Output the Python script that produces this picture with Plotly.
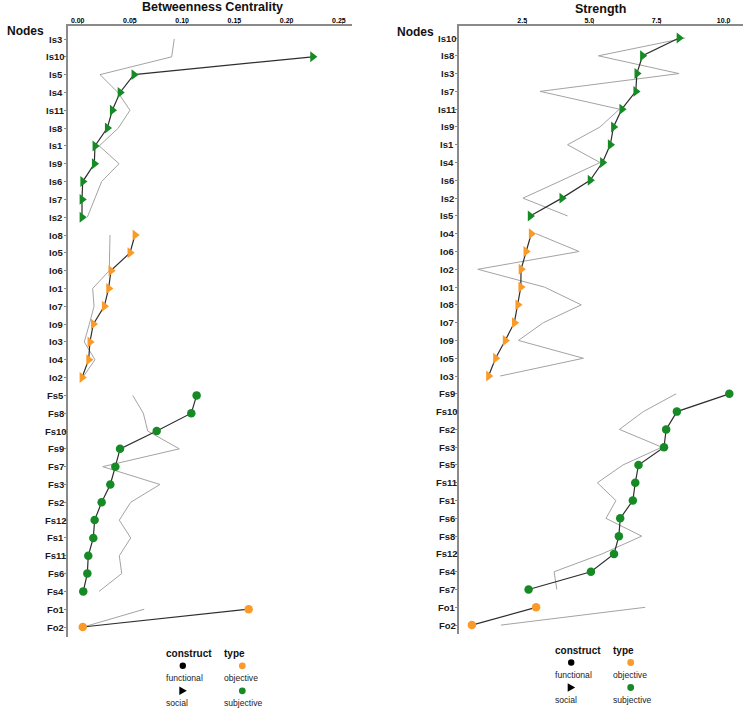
import plotly.graph_objects as go

W, H = 752, 715

# ---------------- Betweenness Centrality panel data ----------------
bc_is_nodes = ["Is3", "Is10", "Is5", "Is4", "Is11", "Is8", "Is1", "Is9", "Is6", "Is7", "Is2"]
bc_is_vals = [None, 0.221, 0.050, 0.0367, 0.0293, 0.0245, 0.0127, 0.0121, 0.001, 0.0003, 0.0003]
bc_is_ref = [0.0886, 0.0861, 0.0175, 0.0347, 0.0462, 0.035, 0.0168, 0.0357, 0.0191, 0.0124, 0.0054]

bc_io_nodes = ["Io8", "Io5", "Io6", "Io1", "Io7", "Io9", "Io3", "Io4", "Io2"]
bc_io_vals = [0.051, 0.0462, 0.028, 0.0258, 0.0216, 0.0111, 0.0079, 0.0067, 0.0003]
bc_io_ref = [0.0271, 0.0271, 0.0264, 0.0105, 0.0118, 0.0073, 0.0025, 0.0127, 0.001]

bc_fs_nodes = ["Fs5", "Fs8", "Fs10", "Fs9", "Fs7", "Fs3", "Fs2", "Fs12", "Fs1", "Fs11", "Fs6", "Fs4"]
bc_fs_vals = [0.110, 0.1049, 0.0718, 0.0367, 0.0322, 0.0274, 0.0191, 0.0124, 0.0111, 0.0063, 0.0054, 0.0015]
bc_fs_ref = [0.0488, 0.059, 0.0632, 0.0934, 0.0201, 0.0749, 0.0469, 0.036, 0.0469, 0.036, 0.0383, 0.0166]

bc_fo_nodes = ["Fo1", "Fo2"]
bc_fo_vals = [0.1598, 0.001]
bc_fo_ref = [0.0599, 0.0015]

bc_ticks = [0.00, 0.05, 0.10, 0.15, 0.20, 0.25]

# ---------------- Strength panel data ----------------
st_is_nodes = ["Is10", "Is8", "Is3", "Is7", "Is11", "Is9", "Is1", "Is4", "Is6", "Is2", "Is5"]
st_is_vals = [8.19, 6.83, 6.62, 6.58, 6.06, 5.75, 5.63, 5.34, 4.88, 3.83, 2.65]
st_is_ref = [8.42, 5.19, 8.19, 3.02, 5.97, 5.25, 4.04, 5.25, 3.83, 2.38, 4.04]

st_io_nodes = ["Io4", "Io6", "Io2", "Io1", "Io8", "Io7", "Io9", "Io5", "Io3"]
st_io_vals = [2.69, 2.49, 2.31, 2.30, 2.19, 2.06, 1.72, 1.36, 1.10]
st_io_ref = [2.87, 4.47, 0.70, 3.18, 4.55, 3.14, 2.21, 4.63, 1.53]

st_fs_nodes = ["Fs9", "Fs10", "Fs2", "Fs3", "Fs5", "Fs11", "Fs1", "Fs6", "Fs8", "Fs12", "Fs4", "Fs7"]
st_fs_vals = [10.06, 8.11, 7.71, 7.63, 6.68, 6.56, 6.47, 6.00, 5.95, 5.77, 4.91, 2.59]
st_fs_ref = [8.08, 6.86, 5.97, 7.55, 6.10, 5.15, 5.84, 5.47, 6.80, 5.32, 3.54, 3.64]

st_fo_nodes = ["Fo1", "Fo2"]
st_fo_vals = [2.87, 0.48]
st_fo_ref = [6.93, 1.56]

st_ticks = [2.5, 5.0, 7.5, 10.0]

construct_levels = ["functional", "social"]
type_levels = ["objective", "subjective"]

COLORS = {"objective": "#f99a29", "subjective": "#168a24"}
SYMBOLS = {"social": "triangle-right", "functional": "circle"}
FONT = "Liberation Sans, Arial, Helvetica, sans-serif"


def px_x(x):
    return x / W


def px_y(y):
    return 1 - y / H


bc_groups = [
    (bc_is_nodes, bc_is_vals, bc_is_ref, "social", "subjective"),
    (bc_io_nodes, bc_io_vals, bc_io_ref, "social", "objective"),
    (bc_fs_nodes, bc_fs_vals, bc_fs_ref, "functional", "subjective"),
    (bc_fo_nodes, bc_fo_vals, bc_fo_ref, "functional", "objective"),
]
st_groups = [
    (st_is_nodes, st_is_vals, st_is_ref, "social", "subjective"),
    (st_io_nodes, st_io_vals, st_io_ref, "social", "objective"),
    (st_fs_nodes, st_fs_vals, st_fs_ref, "functional", "subjective"),
    (st_fo_nodes, st_fo_vals, st_fo_ref, "functional", "objective"),
]

fig = go.Figure()
annotations = []
shapes = []


def add_panel(groups, xa, ya, label_x_px):
    pos = 0
    all_idx = []
    for nodes, vals, ref, cons, typ in groups:
        idx = list(range(pos, pos + len(nodes)))
        pos += len(nodes)
        all_idx += idx
        fig.add_trace(go.Scatter(x=ref, y=idx, mode="lines", xaxis=xa, yaxis=ya,
                                 line=dict(color="#a3a3a3", width=1), showlegend=False,
                                 hoverinfo="skip"))
        fig.add_trace(go.Scatter(x=vals, y=idx, mode="lines+markers", xaxis=xa, yaxis=ya,
                                 line=dict(color="#2e2e2e", width=1.2),
                                 marker=dict(symbol=SYMBOLS[cons], color=COLORS[typ],
                                             size=9.5 if cons == "social" else 8.5,
                                             line=dict(width=0)),
                                 showlegend=False, text=nodes))
        for n, i in zip(nodes, idx):
            annotations.append(dict(x=px_x(label_x_px), xref="paper", y=i, yref=ya,
                                    text=n, showarrow=False, xanchor="center", yanchor="middle",
                                    font=dict(family=FONT, size=9.5, color="#1a1a1a", weight="bold")))
    return all_idx


idx_bc = add_panel(bc_groups, "x", "y", 55.8)
idx_st = add_panel(st_groups, "x2", "y2", 447)

axis_common = dict(showline=True, linecolor="#8a8a8a", linewidth=1.5, ticks="outside",
                   ticklen=2.5, tickcolor="#8a8a8a", tickwidth=1, showgrid=False, zeroline=False)

xtickfont = dict(family=FONT, size=7, color="#000000", weight="bold")

fig.update_layout(
    width=W, height=H, margin=dict(l=0, r=0, t=0, b=0),
    paper_bgcolor="white", plot_bgcolor="white", showlegend=False,
    xaxis=dict(domain=[px_x(68), px_x(352)], range=[-0.0131, 0.2587], side="top", anchor="y",
               tickvals=bc_ticks, tickformat=".2f", ticklabelshift=-4, ticklabelstandoff=-4,
               tickfont=xtickfont, **axis_common),
    yaxis=dict(domain=[px_y(637), px_y(26)], range=[33.56, -0.73], anchor="x",
               tickvals=idx_bc, showticklabels=False, **axis_common),
    xaxis2=dict(domain=[px_x(459), px_x(743)], range=[0.0, 10.57], side="top", anchor="y2",
                tickvals=st_ticks, tickformat=".1f", ticklabelshift=-4, ticklabelstandoff=-4,
                tickfont=xtickfont, **axis_common),
    yaxis2=dict(domain=[px_y(634), px_y(26)], range=[33.50, -0.675], anchor="x2",
                tickvals=idx_st, showticklabels=False, **axis_common),
)

# titles
for txt, x, y, sz in [("Betweenness Centrality", 212, 7, 12.5), ("Strength", 600, 9, 12.5),
                      ("Nodes", 25, 31, 12), ("Nodes", 415.5, 32, 12)]:
    annotations.append(dict(x=px_x(x), y=px_y(y), xref="paper", yref="paper", text=txt,
                            showarrow=False, xanchor="center", yanchor="middle",
                            font=dict(family=FONT, size=sz, color="#111", weight="bold")))


def add_legend(x0, y0):
    # x0: left of "construct"; y0: center y of legend headers
    cx1 = x0 + 18.5   # construct symbol column
    tx2 = x0 + 58     # type column left
    cx2 = x0 + 78     # type symbol column
    dy = 12.5
    annotations.append(dict(x=px_x(x0), y=px_y(y0), xref="paper", yref="paper", text="construct",
                            showarrow=False, xanchor="left", yanchor="middle",
                            font=dict(family=FONT, size=10, color="#111", weight="bold")))
    annotations.append(dict(x=px_x(tx2), y=px_y(y0), xref="paper", yref="paper", text="type",
                            showarrow=False, xanchor="left", yanchor="middle",
                            font=dict(family=FONT, size=10, color="#111", weight="bold")))
    for k, lab in enumerate(construct_levels):
        ys = y0 + dy * (1 + 2 * k)
        yt = y0 + dy * (2 + 2 * k)
        if SYMBOLS[lab] == "circle":
            shapes.append(dict(type="circle", xref="paper", yref="paper",
                               x0=px_x(cx1 - 3.2), x1=px_x(cx1 + 3.2), y0=px_y(ys + 3.2), y1=px_y(ys - 3.2),
                               fillcolor="black", line=dict(width=0)))
        else:
            path = "M {} {} L {} {} L {} {} Z".format(px_x(cx1 - 3.5), px_y(ys - 4.2),
                                                      px_x(cx1 + 4), px_y(ys),
                                                      px_x(cx1 - 3.5), px_y(ys + 4.2))
            shapes.append(dict(type="path", xref="paper", yref="paper", path=path,
                               fillcolor="black", line=dict(width=0)))
        annotations.append(dict(x=px_x(x0), y=px_y(yt), xref="paper", yref="paper", text=lab,
                                showarrow=False, xanchor="left", yanchor="middle",
                                font=dict(family=FONT, size=8.6, color="#222")))
    for k, lab in enumerate(type_levels):
        ys = y0 + dy * (1 + 2 * k)
        yt = y0 + dy * (2 + 2 * k)
        shapes.append(dict(type="circle", xref="paper", yref="paper",
                           x0=px_x(cx2 - 3.4), x1=px_x(cx2 + 3.4), y0=px_y(ys + 3.4), y1=px_y(ys - 3.4),
                           fillcolor=COLORS[lab], line=dict(width=0)))
        annotations.append(dict(x=px_x(tx2), y=px_y(yt), xref="paper", yref="paper", text=lab,
                                showarrow=False, xanchor="left", yanchor="middle",
                                font=dict(family=FONT, size=8.6, color="#222")))


add_legend(164.3, 653.3)
add_legend(552.7, 650)

fig.update_layout(annotations=annotations, shapes=shapes)
fig.write_html("out.html")
